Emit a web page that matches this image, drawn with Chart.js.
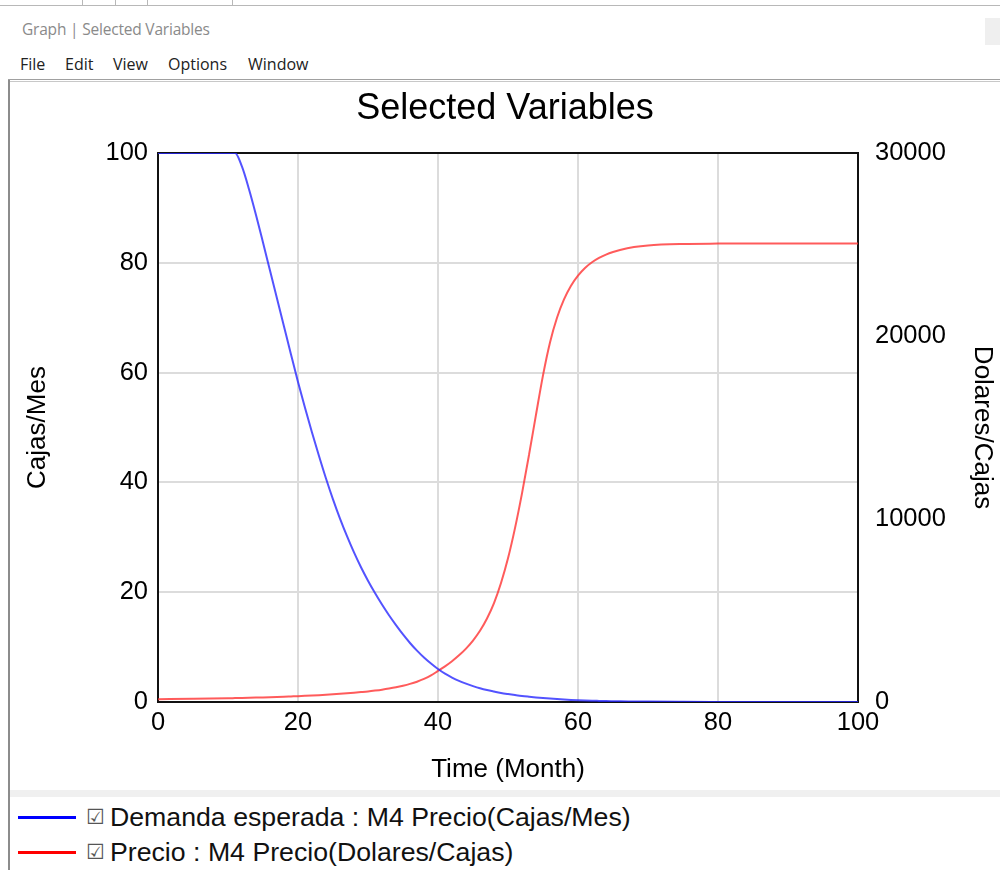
<!DOCTYPE html>
<html>
<head>
<meta charset="utf-8">
<script src="https://cdn.jsdelivr.net/npm/chart.js@4.4.1/dist/chart.umd.min.js"></script>
<style>
  html, body { margin:0; padding:0; background:#fff; width:1000px; height:870px; overflow:hidden; position:relative; font-family:"Liberation Sans", Arial, sans-serif; }
  .topline { position:absolute; left:0; top:5px; width:1000px; height:1px; background:#b8b8b8; }
  .tick { position:absolute; top:0; width:1px; height:5px; background:#b8b8b8; }
  .wtitle { position:absolute; left:22px; top:18px; font-family:"Open Sans","Noto Sans",sans-serif; font-size:15.5px; color:#8a8a8a; letter-spacing:-0.2px; }
  .closebox { position:absolute; left:985px; top:18px; width:15px; height:27px; background:#efefef; }
  .mi { position:absolute; top:53px; font-family:"Open Sans","Noto Sans",sans-serif; font-size:16px; color:#222; }
  .frame-top { position:absolute; left:8px; top:79px; width:992px; height:3px; border-top:1px solid #a0a0a0; border-bottom:1px solid #c8c8c8; box-sizing:border-box; }
  .frame-left { position:absolute; left:8px; top:80px; width:2px; height:790px; background:#8c8c8c; }
  .sep { position:absolute; left:10px; top:790px; width:990px; height:7px; background:#f0f0f0; }
  #wrap { position:absolute; left:0; top:80px; width:1000px; height:715px; }
  .leg { position:absolute; left:18px; height:36px; display:flex; align-items:center; }
  .leg .ln { width:58px; height:3px; }
  .leg .cb { font-family:"DejaVu Sans", sans-serif; font-size:21px; color:#555; margin-left:10px; width:21px; }
  .leg .tx { font-family:"Liberation Sans", Arial, sans-serif; font-size:26.7px; color:#111; margin-left:3px; white-space:nowrap; }
</style>
</head>
<body>
<div class="topline"></div>
<div class="tick" style="left:82px"></div>
<div class="tick" style="left:115px"></div>
<div class="tick" style="left:147px"></div>
<div class="tick" style="left:232px"></div>
<div class="wtitle">Graph | Selected Variables</div>
<div class="closebox"></div>
<div class="mi" style="left:20px">File</div>
<div class="mi" style="left:65px">Edit</div>
<div class="mi" style="left:113px">View</div>
<div class="mi" style="left:168px">Options</div>
<div class="mi" style="left:248px">Window</div>
<div class="frame-top"></div>
<div class="frame-left"></div>
<div id="wrap"><canvas id="c" width="1000" height="715"></canvas></div>
<div class="sep"></div>
<div class="leg" style="top:799px"><div class="ln" style="background:#0000ff"></div><span class="cb">☑</span><span class="tx">Demanda esperada : M4 Precio(Cajas/Mes)</span></div>
<div class="leg" style="top:834px"><div class="ln" style="background:#ff0000"></div><span class="cb">☑</span><span class="tx">Precio : M4 Precio(Dolares/Cajas)</span></div>

<script>
// ---- data ----
const chartTitle = "Selected Variables";
const months = [0,5,10,11,12,13,14,15,16,17,18,19,20,21,22,23,24,25,26,27,28,29,30,31,32,33,34,35,36,37,38,39,40,41,42,43,44,45,46,47,48,49,50,51,52,53,54,55,56,57,58,59,60,61,62,63,64,65,66,68,70,75,80,90,100];
const demandaEsperada = [100,100,100,100,97.5,93.4,88.7,83.7,78.6,73.5,68.4,63.3,58.3,53.6,49.1,44.8,40.7,36.9,33.4,30.2,27.25,24.55,22.1,19.85,17.75,15.8,14.0,12.3,10.75,9.35,8.1,7.0,6.0,5.15,4.45,3.85,3.35,2.9,2.5,2.17,1.9,1.65,1.45,1.27,1.1,0.96,0.83,0.72,0.62,0.53,0.45,0.38,0.32,0.27,0.23,0.2,0.17,0.15,0.13,0.1,0.07,0.03,0.01,0,0];
const precio = [150,175,205,213,221,230,240,251,263,276,290,305,320,337,355,375,397,421,447,476,508,543,580,625,675,735,805,890,990,1110,1260,1450,1700,1950,2230,2550,2920,3360,3890,4560,5400,6500,7850,9500,11400,13500,15700,17850,19650,21000,22000,22750,23300,23720,24030,24270,24450,24590,24700,24860,24950,25030,25050,25060,25060];
const xTicks = [0,20,40,60,80,100];
const leftTicks = [0,20,40,60,80,100];
const rightTicks = [0,10000,20000,30000];
const xTitle = "Time (Month)";
const leftTitle = "Cajas/Mes";
const rightTitle = "Dolares/Cajas";
const seriesNames = ["Demanda esperada : M4 Precio(Cajas/Mes)", "Precio : M4 Precio(Dolares/Cajas)"];

const FONT = "'Liberation Sans', Arial, sans-serif";
const tickFont = {family: FONT, size: 25.5};
const titleFont = {family: FONT, size: 26};

new Chart(document.getElementById('c'), {
  type: 'line',
  data: {
    datasets: [
      { label: seriesNames[0], data: months.map((m,i)=>({x:m, y:demandaEsperada[i]})), yAxisID: 'y',
        borderColor: 'rgba(40,40,255,0.8)', borderWidth: 2, pointRadius: 0, cubicInterpolationMode: 'monotone', fill:false },
      { label: seriesNames[1], data: months.map((m,i)=>({x:m, y:precio[i]})), yAxisID: 'y2',
        borderColor: 'rgba(255,50,50,0.8)', borderWidth: 2, pointRadius: 0, cubicInterpolationMode: 'monotone', fill:false }
    ]
  },
  options: {
    responsive: false,
    animation: false,
    layout: { padding: { left: 10, right: 0, top: 0, bottom: 0 } },
    plugins: {
      legend: { display: false },
      tooltip: { enabled: false },
      title: { display: true, text: chartTitle, color: '#000', font: {family: FONT, size: 36, weight: 'normal'}, padding: {top: 7, bottom: 22.8} }
    },
    scales: {
      x: {
        type: 'linear', min: 0, max: 100,
        afterBuildTicks: s => { s.ticks = xTicks.map(v=>({value:v})); },
        afterFit: s => { s.height = 93; },
        ticks: { color: '#000', font: tickFont, padding: 6, maxRotation: 0 },
        grid: { color: '#dcdcdc', lineWidth: 2, drawTicks: false },
        border: { display: true, color: '#111', width: 2 },
        title: { display: true, text: xTitle, color: '#000', font: titleFont, padding: {top: 0, bottom: 10} }
      },
      y: {
        type: 'linear', position: 'left', min: 0, max: 100,
        afterBuildTicks: s => { s.ticks = leftTicks.map(v=>({value:v})); },
        afterFit: s => { s.width = 148; },
        ticks: { color: '#000', font: tickFont, padding: 10 },
        grid: { color: '#dcdcdc', lineWidth: 2, drawTicks: false },
        border: { display: true, color: '#111', width: 2 },
        title: { display: true, text: leftTitle, color: '#000', font: titleFont, padding: {top: 12, bottom: 0} }
      },
      y2: {
        type: 'linear', position: 'right', min: 0, max: 30000,
        afterBuildTicks: s => { s.ticks = rightTicks.map(v=>({value:v})); },
        afterFit: s => { s.width = 142; },
        ticks: { color: '#000', font: tickFont, padding: 17, callback: v => String(v) },
        grid: { display: false, drawTicks: false },
        border: { display: true, color: '#111', width: 2 },
        title: { display: true, text: rightTitle, color: '#000', font: titleFont, padding: {top: 2, bottom: 0} }
      }
    }
  },
  plugins: [{
    id: 'topBorder',
    beforeDatasetsDraw(chart) {
      const {ctx, chartArea: a} = chart;
      ctx.save(); ctx.strokeStyle = '#111'; ctx.lineWidth = 2;
      ctx.beginPath(); ctx.moveTo(a.left - 1, a.top); ctx.lineTo(a.right + 1, a.top); ctx.stroke();
      ctx.restore();
    }
  }]
});
</script>
</body>
</html>
